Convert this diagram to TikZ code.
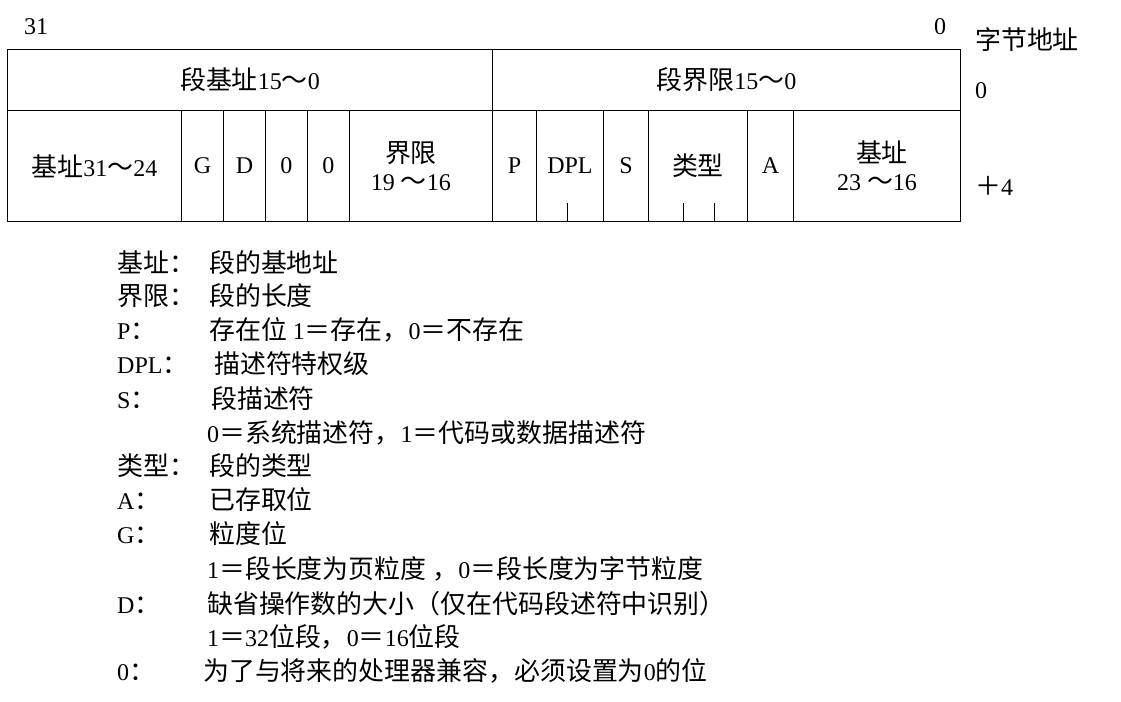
\documentclass[tikz,border=0pt]{standalone}
\usepackage{fontspec}
\setmainfont{Liberation Serif}
\newfontfamily\cjk{Noto Sans CJK SC}[Scale=1.08]
\newcommand\zh[1]{{\cjk #1}}
\begin{document}
\begin{tikzpicture}[x=1pt,y=-1pt,
  every node/.style={font=\fontsize{24}{28}\selectfont},
  cell/.style={draw,line width=0.9pt,anchor=north west,inner sep=0pt,align=center,minimum height=#1},
  txt/.style={anchor=base west,inner sep=0pt},
  tick/.style={line width=0.9pt}]
\useasboundingbox (0,0) rectangle (1121,701);
% top row
\node[cell=61pt,minimum width=485pt] (r1a) at (7,49) {\zh{段基址}15\zh{～}0};
\node[cell=61pt,minimum width=468pt] (r1b) at (492,49) {\zh{段界限}15\zh{～}0};
% bottom row
\node[cell=111pt,minimum width=174pt] (base1) at (7,110) {\zh{基址}31\zh{～}24};
\node[cell=111pt,minimum width=42pt] (g) at (181,110) {G};
\node[cell=111pt,minimum width=42pt] (d) at (223,110) {D};
\node[cell=111pt,minimum width=42pt] (z1) at (265,110) {0};
\node[cell=111pt,minimum width=42pt] (z2) at (307,110) {0};
\node[cell=111pt,minimum width=143pt] (lim) at (349,110) {\zh{界限}\hspace*{20pt}\\19 \zh{～}16\hspace*{20pt}};
\node[cell=111pt,minimum width=44pt] (p) at (492,110) {P};
\node[cell=111pt,minimum width=67pt] (dpl) at (536,110) {DPL};
\node[cell=111pt,minimum width=45pt] (s) at (603,110) {S};
\node[cell=111pt,minimum width=99pt] (type) at (648,110) {\zh{类型}};
\node[cell=111pt,minimum width=46pt] (a) at (747,110) {A};
\node[cell=111pt,minimum width=167pt] (base2) at (793,110) {\hspace*{10pt}\zh{基址}\\23 \zh{～}16};
% ticks
\coordinate (t1) at (567,203);
\coordinate (t2) at (683,203);
\coordinate (t3) at (714,203);
\draw[tick] (t1) -- (t1 |- dpl.south);
\draw[tick] (t2) -- (t2 |- type.south);
\draw[tick] (t3) -- (t3 |- type.south);
% header labels
\node[txt] (b31) at (24,35) {31};
\node[txt] (b0) at (934,35) {0};
\node[txt] (addr) at (975,50) {\zh{字节地址}};
\node[txt] (a0) at (975,98) {0};
\node[txt] (a4) at (975,195) {\zh{＋}4};
% legend
\node[txt] (l1) at (117,272) {\zh{基址：}};
\node[txt] (d1) at (209,272) {\zh{段的基地址}};
\node[txt] (l2) at (117,305) {\zh{界限：}};
\node[txt] (d2) at (209,305) {\zh{段的长度}};
\node[txt] (l3) at (117,339) {P\zh{：}};
\node[txt] (d3) at (209,339) {\zh{存在位} 1\zh{＝存在，}0\zh{＝不存在}};
\node[txt] (l4) at (117,373) {DPL\zh{：}};
\node[txt] (d4) at (214,373) {\zh{描述符特权级}};
\node[txt] (l5) at (117,408) {S\zh{：}};
\node[txt] (d5) at (211,408) {\zh{段描述符}};
\node[txt] (d6) at (207,442) {0\zh{＝系统描述符，}1\zh{＝代码或数据描述符}};
\node[txt] (l7) at (117,475) {\zh{类型：}};
\node[txt] (d7) at (209,475) {\zh{段的类型}};
\node[txt] (l8) at (117,509) {A\zh{：}};
\node[txt] (d8) at (209,509) {\zh{已存取位}};
\node[txt] (l9) at (117,543) {G\zh{：}};
\node[txt] (d9) at (209,543) {\zh{粒度位}};
\node[txt] (d10) at (207,578) {1\zh{＝段长度为页粒度 ，}0\zh{＝段长度为字节粒度}};
\node[txt] (l11) at (117,613) {D\zh{：}};
\node[txt] (d11) at (207,613) {\zh{缺省操作数的大小（仅在代码段述符中识别）}};
\node[txt] (d12) at (207,646) {1\zh{＝}32\zh{位段，}0\zh{＝}16\zh{位段}};
\node[txt] (l13) at (117,680) {0\zh{：}};
\node[txt] (d13) at (203,680) {\zh{为了与将来的处理器兼容，必须设置为}0\zh{的位}};
\end{tikzpicture}
\end{document}
